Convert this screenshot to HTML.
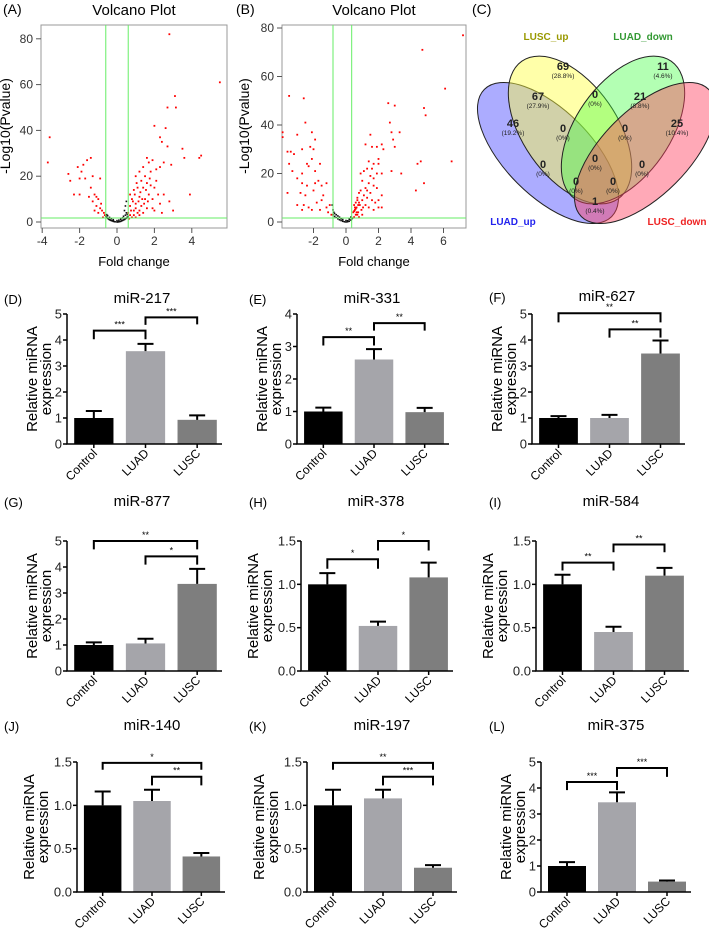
<!DOCTYPE html>
<html><head><meta charset="utf-8"><style>
body{margin:0;background:#fff}
svg{display:block;font-family:"Liberation Sans",sans-serif}
</style></head><body>
<svg id="fig" width="709" height="928" viewBox="0 0 709 928">
<g id="venn">
<text x="472" y="14" font-size="14">(C)</text>
<ellipse cx="548" cy="153" rx="90" ry="43" transform="rotate(45 548 153)" fill="#4848ff" fill-opacity="0.45" stroke="#222" stroke-width="1"/>
<ellipse cx="570" cy="130" rx="84" ry="47" transform="rotate(55 570 130)" fill="#ffff40" fill-opacity="0.45" stroke="#222" stroke-width="1"/>
<ellipse cx="623" cy="130" rx="84" ry="47" transform="rotate(-55 623 130)" fill="#40ff40" fill-opacity="0.4" stroke="#222" stroke-width="1"/>
<ellipse cx="645" cy="153" rx="90" ry="43" transform="rotate(-45 645 153)" fill="#ff4060" fill-opacity="0.45" stroke="#222" stroke-width="1"/>
<text x="546" y="40" font-size="10" font-weight="bold" fill="#999900" text-anchor="middle">LUSC_up</text>
<text x="643" y="40" font-size="10" font-weight="bold" fill="#339933" text-anchor="middle">LUAD_down</text>
<text x="513" y="225" font-size="10" font-weight="bold" fill="#2222ee" text-anchor="middle">LUAD_up</text>
<text x="677" y="225" font-size="10" font-weight="bold" fill="#ee2222" text-anchor="middle">LUSC_down</text>
</g>
</svg>
<script>
const NS="http://www.w3.org/2000/svg";
const svg=document.getElementById('fig');
function mk(tag,attrs,parent,txt){const e=document.createElementNS(NS,tag);for(const k in attrs)e.setAttribute(k,attrs[k]);if(txt!==undefined)e.textContent=txt;(parent||svg).appendChild(e);return e;}

// ---------- Venn data ----------
const vennCounts=["69","11","67","0","21","46","0","0","25","0","0","0","0","0","1"];
const vennPcts=["(28.8%)","(4.6%)","(27.9%)","(0%)","(8.8%)","(19.2%)","(0%)","(0%)","(10.4%)","(0%)","(0%)","(0%)","(0%)","(0%)","(0.4%)"];
const vennX=[563,663,538,595,640,513,563,625,677,543,595,642,576,613,595];
const vennY=[70,70,100,98,100,127,132,132,127,168,162,168,185,185,205];
const vg=document.getElementById('venn');
for(let i=0;i<vennCounts.length;i++){
  const t=mk('text',{x:vennX[i],y:vennY[i],'font-size':11,'font-weight':'bold','text-anchor':'middle',fill:'#222'},vg,vennCounts[i]);
  
  
  const p=mk('text',{x:vennX[i],y:vennY[i]+8,'font-size':6.5,'text-anchor':'middle',fill:'#222'},vg,vennPcts[i]);
  
  
}

// ---------- Volcano data ----------
const volATicksX=[-4,-2,0,2,4];
const volATicksY=[0,20,40,60,80];
const volBTicksX=[-2,0,2,4,6];
const volBTicksY=[0,20,40,60,80];
const volARed=[[2.8,82],[5.5,61],[3.1,55],[3.15,50],[2.7,50],[2.0,42],[2.3,37],[2.6,41],[2.4,35],[2.7,33],[3.5,32],[3.6,28],[4.5,29],[4.4,28],[-3.6,37],[-3.7,26],[2.9,25],[2.5,26],[2.3,24],[2.1,23],[1.8,22],[1.9,27],[1.6,28],[1.7,26],[1.4,24],[1.2,22],[1.0,20],[1.5,20],[1.3,18],[1.6,17],[1.8,16],[2.0,15],[1.1,15],[0.9,14],[1.4,15],[1.7,12],[2.2,12],[2.5,12],[3.9,12],[2.8,9],[2.3,8],[3.0,5],[1.9,10],[1.5,10],[1.2,11],[0.8,10],[1.0,8],[1.3,7],[1.6,6],[2.0,5],[0.7,7],[0.9,5],[1.1,4],[1.4,4],[0.7,3],[0.8,2],[1.0,2],[1.2,3],[0.65,1.5],[0.75,5],[0.95,12],[1.25,13],[1.55,14],[1.75,19],[1.15,9],[1.45,8],[0.85,9],[2.1,18],[1.9,6],[2.4,4],[1.05,17],[0.7,12],[1.35,10],[1.65,9],[0.9,3],[1.2,5],[0.6,4],[1.0,6],[-2.6,21],[-2.5,18],[-2.3,12],[-2.0,12],[-2.1,24],[-1.9,22],[-1.8,25],[-1.6,27],[-1.4,28],[-2.0,19],[-1.7,19],[-1.3,20],[-0.9,19],[-1.4,15],[-1.2,12],[-1.1,11],[-1.3,9],[-1.0,10],[-1.1,7],[-0.9,6],[-0.8,5],[-0.7,4],[-1.0,4],[-0.75,2],[-0.65,3],[-1.2,5],[-0.85,8],[-1.5,11]];
const volABlack=[[-0.6,2.5],[-0.55,2],[-0.5,1.6],[-0.45,1.3],[-0.4,1],[-0.35,0.8],[-0.3,0.6],[-0.25,0.5],[-0.2,0.3],[-0.15,0.2],[-0.1,0.1],[0,0],[0.05,0.05],[0.1,0.1],[0.15,0.2],[0.2,0.3],[0.25,0.5],[0.3,0.7],[0.35,0.9],[0.4,1.1],[0.45,1.4],[0.5,1.7],[0.55,2.1],[0.6,2.4],[-0.5,2.8],[-0.3,1.5],[0.3,1.8],[0.45,3],[0.5,4],[0.4,5],[0.5,9],[0.45,7],[-0.2,1],[0.2,1.2],[0,0.6],[-0.4,2],[0.35,2.5],[0.55,3.3],[-0.55,3.2],[0.1,0.8]];
const volBRed=[[7.2,77],[4.7,71],[6.1,55],[4.8,47],[4.9,44],[2.6,49],[3.0,48],[2.7,41],[2.8,37],[3.3,37],[2.9,34],[3.0,31],[2.2,32],[2.3,30],[1.9,31],[1.5,36],[1.6,31],[1.2,32],[2.0,26],[2.0,24],[1.7,24],[1.6,22],[1.4,25],[1.3,22],[1.1,21],[1.5,19],[1.7,18],[1.9,20],[2.2,20],[2.8,21],[3.4,20],[4.4,24],[4.6,25],[6.5,25],[4.8,16],[4.3,13],[2.2,11],[2.0,9],[1.9,14],[1.7,15],[1.4,16],[1.2,14],[1.0,17],[0.9,13],[0.8,12],[1.1,11],[1.3,10],[1.5,12],[1.6,9],[1.8,8],[0.7,9],[0.6,8],[0.5,7],[0.55,5],[0.65,6],[0.75,4],[0.85,7],[0.95,5],[1.05,6],[1.2,7],[1.4,6],[1.7,5],[2.0,6],[0.6,3],[0.5,2],[0.8,2],[1.0,3],[0.45,4],[0.7,10],[1.0,9],[1.3,13],[0.9,20],[2.2,6],[0.55,6],[0.65,4],[0.75,7],[0.6,5.5],[0.7,3],[0.5,4.5],[0.8,8],[-3.9,37],[-3.9,35],[-3.5,52],[-2.6,51],[-3.0,36],[-2.5,41],[-2.1,37],[-1.9,34],[-2.2,31],[-3.4,29],[-3.6,29],[-3.2,28],[-2.7,30],[-2.0,30],[-3.5,24],[-3.3,21],[-3.6,12],[-3.0,18],[-2.7,20],[-2.4,24],[-2.3,23],[-2.1,26],[-1.6,24],[-1.9,21],[-2.7,16],[-2.4,15],[-1.9,16],[-1.7,17],[-1.5,15],[-2.8,12],[-2.5,11],[-2.0,13],[-1.2,16],[-1.4,11],[-3.0,7],[-2.6,7],[-2.3,6],[-1.8,8],[-1.5,9],[-2.7,5],[-1.2,6],[-1.0,7],[-1.6,5],[-1.1,4],[-0.9,3],[-2.1,5]];
const volBBlack=[[-0.8,3],[-0.7,2.3],[-0.6,1.8],[-0.5,1.3],[-0.4,0.9],[-0.3,0.6],[-0.2,0.3],[-0.1,0.1],[0,0],[0.1,0.1],[0.2,0.3],[0.3,0.8],[0.35,1.2],[0.4,1.6],[-0.75,4],[-0.8,5],[-0.85,7],[-0.6,3],[-0.4,2],[-0.2,1],[0,0.6],[0.2,1.1],[0.3,2],[-0.5,2.5],[-0.7,3.5],[0.1,0.5],[-0.3,1.4]];

function volcano(o){
  const g=mk('g',{});
  
  
  const X=v=>o.x0+o.xs*v, Y=v=>o.y0-o.ys*v;
  let t;
  t=mk('text',{x:o.lx,y:14,'font-size':14},g,o.letter);
  
  
  t=mk('text',{x:(o.bl+o.br)/2,y:15,'font-size':15,'text-anchor':'middle'},g,'Volcano Plot');
  
  
  const box=mk('rect',{x:o.bl,y:25,width:o.br-o.bl,height:203,fill:'none',stroke:'#999','stroke-width':1},g);
  
  
  o.ty.forEach(v=>{
    const l=mk('line',{x1:o.bl-5,x2:o.bl,y1:Y(v),y2:Y(v),stroke:'#555'},g);
    
    
    const tt=mk('text',{x:o.bl-8,y:Y(v)+4,'font-size':12,'text-anchor':'end',fill:'#333'},g,String(v));
    
    
  });
  o.tx.forEach(v=>{
    const l=mk('line',{x1:X(v),x2:X(v),y1:228,y2:233,stroke:'#555'},g);
    
    
    const tt=mk('text',{x:X(v),y:245,'font-size':12,'text-anchor':'middle',fill:'#333'},g,String(v));
    
    
  });
  t=mk('text',{x:(o.bl+o.br)/2,y:266,'font-size':13,'text-anchor':'middle'},g,'Fold change');
  
  
  t=mk('text',{x:o.ylx,y:126,'font-size':14,'text-anchor':'middle',transform:`rotate(-90 ${o.ylx} 126)`},g,'-Log10(Pvalue)');
  
  
  o.black.forEach(p=>{
    const c=mk('rect',{x:X(p[0])-0.8,y:Y(p[1])-0.8,width:1.6,height:1.6,fill:'#111'},g);
    
    
  });
  o.red.forEach(p=>{
    const c=mk('rect',{x:X(p[0])-0.9,y:Y(p[1])-0.9,width:1.8,height:1.8,fill:'#ff0000'},g);
    
    
  });
  [o.vl1,o.vl2].forEach(v=>{
    const l=mk('line',{x1:X(v),x2:X(v),y1:25,y2:228,stroke:'#66ee66','stroke-width':1},g);
    
    
  });
  const h=mk('line',{x1:o.bl,x2:o.br,y1:218,y2:218,stroke:'#66ee66','stroke-width':1},g);
  
  
}
volcano({name:'volcano-plot-a',letter:'(A)',lx:3,bl:41,br:227,x0:117,xs:18.7,y0:222,ys:2.29,tx:volATicksX,ty:volATicksY,red:volARed,black:volABlack,vl1:-0.6,vl2:0.6,ylx:10});
volcano({name:'volcano-plot-b',letter:'(B)',lx:236,bl:282,br:466,x0:346,xs:16.25,y0:222,ys:2.425,tx:volBTicksX,ty:volBTicksY,red:volBRed,black:volBBlack,vl1:-0.8,vl2:0.35,ylx:249});

// ---------- Bar chart data ----------
const groups=["Control","LUAD","LUSC"];
const barColors=["#000000","#a5a5aa","#7e7e7e"];
const vals_D=[1.0,3.57,0.93], errs_D=[0.27,0.28,0.17];
const vals_E=[1.0,2.6,0.98], errs_E=[0.12,0.32,0.13];
const vals_F=[1.0,1.0,3.48], errs_F=[0.07,0.12,0.5];
const vals_G=[1.0,1.06,3.35], errs_G=[0.1,0.18,0.58];
const vals_H=[1.0,0.52,1.08], errs_H=[0.13,0.05,0.17];
const vals_I=[1.0,0.45,1.1], errs_I=[0.11,0.06,0.09];
const vals_J=[1.0,1.05,0.41], errs_J=[0.16,0.13,0.04];
const vals_K=[1.0,1.08,0.28], errs_K=[0.18,0.1,0.03];
const vals_L=[1.0,3.45,0.4], errs_L=[0.15,0.38,0.04];
const ticks5=["0","1","2","3","4","5"], ticks5v=[0,1,2,3,4,5];
const ticks4=["0","1","2","3","4"], ticks4v=[0,1,2,3,4];
const ticks15=["0.0","0.5","1.0","1.5"], ticks15v=[0,0.5,1,1.5];
// brackets: [from, to, top value, left leg value, right leg value, stars]
const br_D=[[0,1,4.36,4.03,4.03,"***"],[1,2,4.87,4.58,4.6,"***"]];
const br_E=[[0,1,3.29,3.03,3.03,"**"],[1,2,3.72,3.49,3.49,"**"]];
const br_F=[[0,2,5.03,4.68,4.68,"**"],[1,2,4.41,4.09,4.09,"**"]];
const br_G=[[0,2,5.0,4.68,4.68,"**"],[1,2,4.41,4.09,4.09,"*"]];
const br_H=[[0,1,1.29,1.18,1.18,"*"],[1,2,1.5,1.39,1.39,"*"]];
const br_I=[[0,1,1.25,1.16,1.16,"**"],[1,2,1.46,1.37,1.37,"**"]];
const br_J=[[0,2,1.49,1.41,1.41,"*"],[1,2,1.33,1.23,1.23,"**"]];
const br_K=[[0,2,1.49,1.41,1.41,"**"],[1,2,1.33,1.23,1.23,"***"]];
const br_L=[[0,1,4.23,3.92,3.92,"***"],[1,2,4.77,4.43,4.43,"***"]];

function barPanel(o){
  const g=mk('g',{});
  
  
  const ax=o.ax, ex=o.ax+o.w, Y=v=>o.bot-(o.bot-o.top)*v/o.ymax;
  const band=(ex-ax)/3, bw=band*0.76, cx=i=>ax+band*(i+0.5)+1;
  const wide=o.ticks[0].length>1;
  const off1=wide?-43:-30, off2=wide?-29:-16;
  let t;
  t=mk('text',{x:o.lx,y:o.ty+5,'font-size':13},g,o.letter);
  
  
  t=mk('text',{x:ax+75,y:o.ty+4,'font-size':15,'text-anchor':'middle'},g,o.title);
  
  
  const mid=(o.top+o.bot)/2;
  t=mk('text',{x:ax+off1,y:mid,'font-size':15,'text-anchor':'middle',transform:`rotate(-90 ${ax+off1} ${mid})`},g,'Relative miRNA');
  
  
  t=mk('text',{x:ax+off2,y:mid,'font-size':15,'text-anchor':'middle',transform:`rotate(-90 ${ax+off2} ${mid})`},g,'expression');
  
  
  o.vals.forEach((v,i)=>{
    const r=mk('rect',{x:cx(i)-bw/2,y:Y(v),width:bw,height:o.bot-Y(v),fill:barColors[i]},g);
    
    
    const e=mk('path',{d:`M${cx(i)} ${Y(v)}V${Y(v+o.errs[i])}M${cx(i)-8} ${Y(v+o.errs[i])}H${cx(i)+8}`,stroke:'#000','stroke-width':2,fill:'none'},g);
    
    
  });
  const axes=mk('path',{d:`M${ax} ${o.top}V${o.bot}H${ex}`,stroke:'#000','stroke-width':1.5,fill:'none'},g);
  
  
  o.tickv.forEach((v,k)=>{
    const l=mk('line',{x1:ax-4,x2:ax,y1:Y(v),y2:Y(v),stroke:'#000','stroke-width':1.5},g);
    
    
    const tt=mk('text',{x:ax-5,y:Y(v)+4.5,'font-size':13,'text-anchor':'end',fill:'#222'},g,o.ticks[k]);
    
    
  });
  groups.forEach((name,i)=>{
    const l=mk('line',{x1:cx(i),x2:cx(i),y1:o.bot,y2:o.bot+4,stroke:'#000','stroke-width':1.5},g);
    
    
    const px=cx(i)+4, py=o.bot+10;
    const tt=mk('text',{x:px,y:py,'font-size':12,'text-anchor':'end',transform:`rotate(-45 ${px} ${py})`},g,name);
    
    
  });
  o.br.forEach(b=>{
    const x1=cx(b[0]), x2=cx(b[1]);
    const p=mk('path',{d:`M${x1} ${Y(b[3])}V${Y(b[2])}H${x2}V${Y(b[4])}`,stroke:'#000','stroke-width':2,fill:'none'},g);
    
    
    const s=mk('text',{x:(x1+x2)/2,y:Y(b[2])-3,'font-size':9,'text-anchor':'middle'},g,b[5]);
    
    
  });
}
barPanel({name:'bar-chart-mir-217',letter:'(D)',title:'miR-217',lx:4,ax:67,w:155,top:314,bot:444,ty:299,ymax:5,ticks:ticks5,tickv:ticks5v,vals:vals_D,errs:errs_D,br:br_D});
barPanel({name:'bar-chart-mir-331',letter:'(E)',title:'miR-331',lx:249,ax:297,w:152,top:314,bot:444,ty:299,ymax:4,ticks:ticks4,tickv:ticks4v,vals:vals_E,errs:errs_E,br:br_E});
barPanel({name:'bar-chart-mir-627',letter:'(F)',title:'miR-627',lx:489,ax:532,w:153,top:314,bot:444,ty:297,ymax:5,ticks:ticks5,tickv:ticks5v,vals:vals_F,errs:errs_F,br:br_F});
barPanel({name:'bar-chart-mir-877',letter:'(G)',title:'miR-877',lx:4,ax:67,w:155,top:541,bot:671,ty:502,ymax:5,ticks:ticks5,tickv:ticks5v,vals:vals_G,errs:errs_G,br:br_G});
barPanel({name:'bar-chart-mir-378',letter:'(H)',title:'miR-378',lx:249,ax:301,w:152,top:541,bot:671,ty:502,ymax:1.5,ticks:ticks15,tickv:ticks15v,vals:vals_H,errs:errs_H,br:br_H});
barPanel({name:'bar-chart-mir-584',letter:'(I)',title:'miR-584',lx:489,ax:536,w:153,top:541,bot:671,ty:502,ymax:1.5,ticks:ticks15,tickv:ticks15v,vals:vals_I,errs:errs_I,br:br_I});
barPanel({name:'bar-chart-mir-140',letter:'(J)',title:'miR-140',lx:4,ax:77,w:148,top:762,bot:892,ty:726,ymax:1.5,ticks:ticks15,tickv:ticks15v,vals:vals_J,errs:errs_J,br:br_J});
barPanel({name:'bar-chart-mir-197',letter:'(K)',title:'miR-197',lx:249,ax:307,w:150,top:762,bot:892,ty:726,ymax:1.5,ticks:ticks15,tickv:ticks15v,vals:vals_K,errs:errs_K,br:br_K});
barPanel({name:'bar-chart-mir-375',letter:'(L)',title:'miR-375',lx:489,ax:541,w:150,top:762,bot:892,ty:726,ymax:5,ticks:ticks5,tickv:ticks5v,vals:vals_L,errs:errs_L,br:br_L});
</script>
</body></html>
